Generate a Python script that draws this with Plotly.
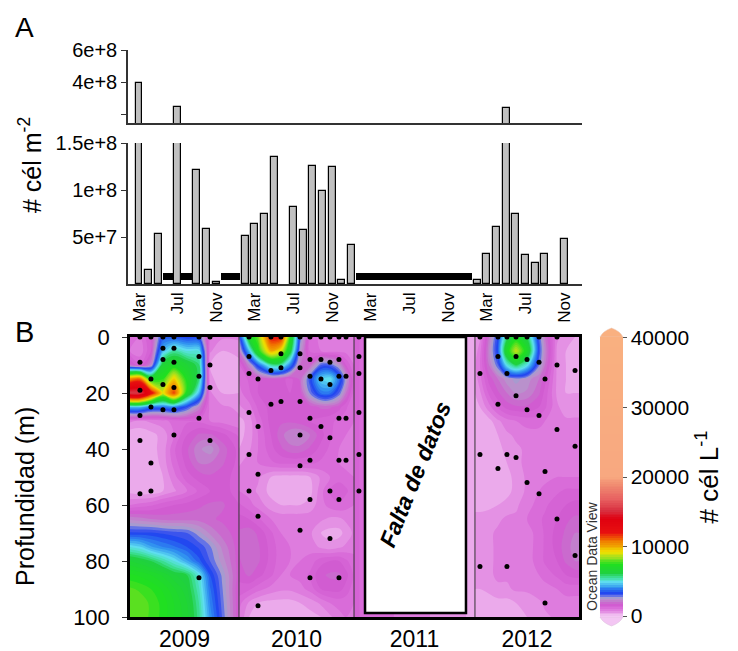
import plotly.graph_objects as go

# ---------------- Panel A data ----------------
bar_months = ["2009-03", "2009-04", "2009-05", "2009-07", "2009-09", "2009-10", "2009-11",
              "2010-02", "2010-03", "2010-04", "2010-05", "2010-07", "2010-08", "2010-09",
              "2010-10", "2010-11", "2010-12", "2011-01",
              "2012-02", "2012-03", "2012-04", "2012-05", "2012-06", "2012-07", "2012-08",
              "2012-09", "2012-11"]
cells_m2 = [3.95e8, 1.5e7, 5.35e7, 2.5e8, 1.215e8, 5.9e7, 2.0e6,
            5.1e7, 6.35e7, 7.5e7, 1.35e8, 8.2e7, 5.7e7, 1.26e8,
            9.85e7, 1.24e8, 4.5e6, 4.2e7,
            4.0e6, 3.2e7, 6.07e7, 2.4e8, 7.47e7, 3.1e7, 2.2e7,
            3.2e7, 4.75e7]
no_sample_months = ["2009-06", "2009-07", "2009-08", "2009-12", "2010-01",
                    "2011-02", "2011-03", "2011-04", "2011-05", "2011-06", "2011-07",
                    "2011-08", "2011-09", "2011-10", "2011-11", "2011-12", "2012-01"]
no_sample_base = 4.0e6
no_sample_height = 7.5e6
tick_months = ["2009-03", "2009-07", "2009-11", "2010-03", "2010-07", "2010-11",
               "2011-03", "2011-07", "2011-11", "2012-03", "2012-07", "2012-11"]
tick_labels = ["Mar", "Jul", "Nov", "Mar", "Jul", "Nov",
               "Mar", "Jul", "Nov", "Mar", "Jul", "Nov"]
upper_ticks = [2e8, 4e8, 6e8]
upper_ticktext = ["", "4e+8", "6e+8"]
lower_ticks = [5e7, 1e8, 1.5e8]
lower_ticktext = ["5e+7", "1e+8", "1.5e+8"]

# ---------------- Panel B data ----------------
depths = [0, 5, 10, 15, 20, 25, 30, 35, 40, 45, 50, 55, 60, 65, 70, 75, 80, 85, 90, 95, 100]
years = ["2009", "2010", "2011", "2012"]
year_edges = [1.07, 12.35, 24.26, 36.78, 47.55]
nodata_x = [25.40, 35.85]
nodata_depth = [0, 98.6]

cols_2009 = [1.07, 2.10, 3.24, 4.48, 5.62, 6.97, 8.21, 9.35, 10.59, 12.35]
z_2009 = [
    [1200, 1000, 1500, 3500, 3500, 3300, 3200, 1000, 800, 800],
    [1000, 800, 1500, 4500, 5500, 5000, 5000, 800, 500, 600],
    [1800, 1300, 2200, 6500, 7000, 6500, 5800, 500, 300, 400],
    [10500, 11000, 7000, 7500, 9500, 7200, 5800, 600, 300, 400],
    [15500, 15500, 12500, 9000, 11500, 7000, 4500, 800, 500, 500],
    [4500, 4500, 3800, 3800, 4000, 3200, 2200, 900, 800, 700],
    [800, 700, 800, 900, 1100, 1200, 1200, 1000, 900, 800],
    [300, 300, 400, 600, 1000, 1500, 1800, 1800, 1600, 1200],
    [300, 300, 400, 600, 1200, 1700, 2200, 2400, 1900, 1400],
    [300, 300, 300, 600, 1100, 1600, 2000, 2000, 1800, 1400],
    [300, 300, 300, 500, 900, 1400, 1600, 1700, 1600, 1400],
    [400, 300, 300, 500, 700, 1000, 1300, 1500, 1600, 1400],
    [1000, 1100, 1200, 1400, 1500, 1600, 1700, 1800, 1800, 1500],
    [2200, 2100, 2000, 1900, 1900, 1900, 1900, 1800, 1700, 1500],
    [3300, 3300, 3300, 3200, 3100, 3000, 2600, 2200, 1900, 1600],
    [5000, 4800, 4300, 4000, 3800, 3500, 3200, 2800, 2200, 1600],
    [6500, 6300, 6000, 5500, 5000, 4300, 3600, 3000, 2400, 1600],
    [7300, 7200, 7000, 6700, 6300, 6000, 5000, 3500, 2700, 1600],
    [7800, 7700, 7500, 7200, 6800, 6300, 5300, 3800, 2800, 1500],
    [8000, 7900, 7700, 7400, 7000, 6500, 5500, 4000, 2900, 1500],
    [8000, 7900, 7700, 7400, 7000, 6600, 5600, 4200, 3000, 1500],
]

cols_2010 = [12.35, 13.39, 14.32, 15.66, 16.70, 17.63, 18.67, 19.70, 20.84, 21.77, 22.70, 23.43, 24.26]
z_2010 = [
    [2800, 6800, 8000, 12000, 12000, 7500, 3000, 1200, 900, 800, 800, 800, 900],
    [2000, 4500, 7200, 10000, 9000, 6500, 2500, 1200, 1000, 900, 900, 900, 900],
    [1200, 2200, 3600, 5500, 5500, 4000, 2000, 1800, 3000, 3000, 2400, 1500, 1000],
    [1000, 1300, 1500, 1700, 1600, 1400, 1800, 3200, 4800, 5000, 3800, 2500, 1200],
    [900, 1200, 1500, 1700, 1600, 1500, 1600, 2800, 3800, 3800, 3000, 2000, 1100],
    [700, 900, 1300, 1600, 1700, 1600, 1500, 1600, 1800, 1800, 1600, 1300, 1000],
    [400, 600, 1100, 1600, 1700, 1700, 1600, 1500, 1400, 1300, 1200, 1100, 1000],
    [400, 600, 1000, 1500, 1900, 2200, 2300, 2000, 1600, 1300, 1100, 1000, 900],
    [500, 700, 1000, 1400, 1700, 1900, 1900, 1700, 1400, 1200, 1000, 900, 900],
    [700, 900, 1000, 1200, 1300, 1300, 1300, 1300, 1200, 1100, 1000, 900, 900],
    [900, 900, 800, 500, 400, 400, 400, 500, 800, 1000, 1100, 1100, 1000],
    [1000, 900, 700, 400, 300, 300, 300, 400, 900, 1300, 1500, 1300, 1100],
    [1300, 1100, 900, 600, 500, 500, 500, 600, 900, 1100, 1200, 1100, 1000],
    [1600, 1500, 1300, 1000, 900, 900, 900, 900, 800, 700, 700, 800, 900],
    [1800, 1900, 1700, 1300, 1000, 1000, 1000, 800, 500, 400, 400, 600, 800],
    [1800, 2000, 1800, 1400, 1100, 1000, 1000, 900, 700, 600, 700, 800, 900],
    [1700, 2000, 1800, 1400, 1100, 1000, 1000, 1100, 1400, 1500, 1500, 1300, 1100],
    [1600, 1800, 1600, 1300, 1000, 1000, 1100, 1300, 1700, 1800, 1800, 1600, 1200],
    [1400, 1300, 1100, 900, 800, 800, 900, 1100, 1500, 1600, 1600, 1400, 1100],
    [1100, 700, 500, 400, 400, 400, 500, 600, 800, 1000, 1100, 1100, 1000],
    [1000, 500, 300, 300, 300, 300, 300, 400, 500, 700, 900, 1000, 1000],
]

cols_2011 = [24.26, 25.40, 35.85, 36.78]
z_2011 = [[1300, 1200, 500, 500] for _d in depths]

cols_2012 = [36.78, 37.30, 38.23, 39.16, 40.09, 41.03, 42.17, 43.41, 44.03, 45.27, 46.20, 47.14, 47.55]
z_2012 = [
    [500, 700, 2000, 3300, 5800, 7000, 6000, 3000, 2000, 800, 600, 500, 500],
    [600, 900, 2200, 3500, 7000, 8800, 7000, 3200, 2200, 700, 500, 400, 400],
    [700, 1000, 2000, 3000, 5000, 6000, 5000, 2800, 2000, 700, 500, 400, 400],
    [600, 900, 1600, 2000, 2400, 2600, 2400, 2000, 1600, 700, 500, 400, 400],
    [500, 700, 1300, 1700, 2000, 2300, 2200, 1800, 1400, 700, 500, 500, 500],
    [400, 500, 900, 1300, 1600, 1700, 1700, 1500, 1300, 800, 600, 600, 600],
    [300, 300, 400, 700, 900, 1000, 1100, 1100, 1000, 900, 800, 800, 800],
    [300, 300, 300, 500, 700, 800, 900, 900, 900, 800, 800, 800, 800],
    [300, 300, 300, 400, 600, 700, 800, 800, 800, 800, 800, 800, 800],
    [300, 300, 300, 300, 500, 700, 800, 800, 800, 900, 900, 900, 900],
    [300, 300, 300, 300, 400, 600, 800, 900, 900, 1000, 1000, 1000, 1000],
    [300, 300, 300, 300, 400, 600, 800, 1000, 1100, 1200, 1300, 1300, 1300],
    [400, 400, 400, 500, 600, 700, 900, 1100, 1200, 1400, 1500, 1600, 1600],
    [600, 600, 700, 700, 800, 800, 1000, 1200, 1300, 1500, 1700, 1800, 1800],
    [700, 700, 700, 800, 800, 800, 900, 1100, 1300, 1600, 1800, 2000, 2000],
    [700, 700, 700, 800, 800, 800, 900, 1100, 1300, 1600, 1900, 2100, 2100],
    [700, 700, 700, 800, 800, 800, 900, 1100, 1300, 1500, 1800, 2000, 2000],
    [600, 700, 700, 800, 800, 800, 900, 1000, 1100, 1300, 1500, 1600, 1600],
    [500, 500, 600, 700, 700, 800, 800, 900, 900, 1000, 1100, 1100, 1100],
    [400, 300, 300, 400, 400, 500, 600, 700, 800, 800, 900, 900, 900],
    [400, 300, 300, 300, 300, 400, 500, 600, 700, 800, 800, 800, 800],
]

# sampling stations (month position, depths in m)
stations = [
    (2.10, [0, 9, 19, 28, 37, 56]), (3.24, [0, 15, 25, 45, 55]), (4.48, [0, 4, 8, 17, 26]),
    (5.62, [0, 4, 9, 18, 26, 35]), (8.21, [0, 7, 14, 29, 86]), (9.35, [0, 10, 18, 37]),
    (13.39, [0, 7, 13, 27, 42, 55]), (14.32, [15, 32, 49, 64, 96]), (15.66, [0, 12, 24]),
    (16.70, [0, 6, 11, 23]), (18.67, [0, 6, 11, 23, 35, 46, 69]),
    (19.70, [0, 8, 14, 29, 44, 58, 86]), (20.84, [0, 8, 15, 32]),
    (21.77, [0, 9, 17, 36, 55, 72]), (22.70, [0, 8, 14, 29, 44, 58, 86]),
    (23.43, [0, 14, 29, 44]), (24.77, [0, 7, 13, 27, 42, 55]),
    (37.30, [0, 13, 42, 82]), (39.16, [0, 7, 24, 47]), (40.09, [0, 13, 42, 82]),
    (41.03, [0, 7, 21, 43]), (42.17, [0, 8, 26, 52]), (43.41, [0, 9, 28, 56]),
    (44.03, [15, 48, 95]), (45.27, [0, 10, 33, 65]), (47.14, [12, 39, 78]),
]

cbar_ticks = [0, 10000, 20000, 30000, 40000]
cbar_ticktext = ["0", "10000", "20000", "30000", "40000"]
cs_values = [0, 350, 600, 900, 1300, 1800, 2300, 2700, 3000, 3400, 4200, 5000, 5600, 6200, 7500,
             8500, 9300, 10200, 11000, 12000, 14000, 15200, 16800, 18800, 20000, 40000]
cs_colors = ["#f3c6f3", "#efb8ef", "#e8a0e8", "#e082e0", "#d868d8", "#d05ad0", "#c084cc", "#b0a0cc",
             "#6070e8", "#2040f0", "#3090f0", "#60e0f0", "#40e0a0", "#20d040", "#20e020",
             "#a0e020", "#f0e000", "#f0a000", "#f07000", "#e81010", "#e00010", "#d83040",
             "#e86060", "#f08a70", "#f8a880", "#f9b080"]

# ---------------- helpers ----------------
W, H = 738, 651
FONT = "Liberation Sans, Arial, sans-serif"


def midx(s):
    y, m = s.split("-")
    return (int(y) - 2009) * 12 + int(m) - 1


def fx(px):
    return px / W


def fy(py):
    return 1 - py / H


bar_x = [midx(m) for m in bar_months]
gap_x = [midx(m) for m in no_sample_months]
tick_x = [midx(m) for m in tick_months]

fig = go.Figure()

# Panel A: no-sampling bars (lower) then counts in both sub panels
fig.add_trace(go.Bar(x=gap_x, y=[no_sample_height] * len(gap_x), base=no_sample_base,
                     width=1.0, marker=dict(color="black", line=dict(width=0)),
                     xaxis="x2", yaxis="y2", showlegend=False, hoverinfo="skip"))
for xa, ya in (("x", "y"), ("x2", "y2")):
    fig.add_trace(go.Bar(x=bar_x, y=cells_m2, width=0.72,
                         marker=dict(color="#c0c0c0", line=dict(color="black", width=1.2)),
                         xaxis=xa, yaxis=ya, showlegend=False))

# Panel B: contour per year
for cols, zz in ((cols_2009, z_2009), (cols_2010, z_2010), (cols_2011, z_2011), (cols_2012, z_2012)):
    fig.add_trace(go.Contour(
        x=cols, y=depths, z=zz, coloraxis="coloraxis", autocontour=False,
        contours=dict(start=0, end=40000, size=250, coloring="fill", showlines=False),
        line=dict(width=0, smoothing=1.0), xaxis="x3", yaxis="y3", hoverinfo="skip"))

sx, sy = [], []
for xm, ds in stations:
    for d in ds:
        sx.append(xm)
        sy.append(d)
fig.add_trace(go.Scatter(x=sx, y=sy, mode="markers", marker=dict(color="black", size=5),
                         xaxis="x3", yaxis="y3", showlegend=False, hoverinfo="skip"))

axis_line = dict(showline=True, linecolor="#333333", linewidth=1.5, showgrid=False,
                 zeroline=False, automargin=False)
top_dom = [fx(128), fx(582)]
top_rng = [0.86, 47.86]

# shapes: year separators, no-data box, colorbar end caps
shapes = []
for e in year_edges[1:-1]:
    shapes.append(dict(type="line", xref="x3", yref="y3", x0=e, x1=e, y0=0, y1=100,
                       line=dict(color="#333333", width=1), layer="above"))
shapes.append(dict(type="rect", xref="x3", yref="y3", x0=nodata_x[0], x1=nodata_x[1],
                   y0=nodata_depth[0], y1=nodata_depth[1], fillcolor="white",
                   line=dict(color="black", width=2.5), layer="above"))
cb_l, cb_r, cb_t, cb_b = 600, 623, 337, 617
cb_mid = (cb_l + cb_r) / 2
shapes.append(dict(type="path", xref="paper", yref="paper",
                   path=f"M {fx(cb_l)} {fy(cb_t)} Q {fx(cb_l + 3)} {fy(cb_t - 6)} {fx(cb_mid)} {fy(cb_t - 9)} "
                        f"Q {fx(cb_r - 3)} {fy(cb_t - 6)} {fx(cb_r)} {fy(cb_t)} Z",
                   fillcolor=cs_colors[-1], line=dict(color="#e8c8b8", width=0.5)))
shapes.append(dict(type="path", xref="paper", yref="paper",
                   path=f"M {fx(cb_l)} {fy(cb_b)} Q {fx(cb_l + 3)} {fy(cb_b + 6)} {fx(cb_mid)} {fy(cb_b + 9)} "
                        f"Q {fx(cb_r - 3)} {fy(cb_b + 6)} {fx(cb_r)} {fy(cb_b)} Z",
                   fillcolor=cs_colors[0], line=dict(color="#d8b8d8", width=0.5)))

year_mid = [(year_edges[i] + year_edges[i + 1]) / 2 for i in range(len(years))]


def ann(text, x, y, size, angle=0, color="black", xref="paper", yref="paper"):
    return dict(text=text, x=x, y=y, xref=xref, yref=yref, showarrow=False, textangle=angle,
                xanchor="center", yanchor="middle", font=dict(size=size, color=color, family=FONT))


annotations = [
    ann("A", fx(24), fy(28), 28),
    ann("B", fx(25), fy(332), 29),
    ann("# cél m<sup>-2</sup>", fx(30), fy(165), 25, -90),
    ann("Profundidad (m)", fx(25), fy(497), 25, -90),
    ann("<b><i>Falta de datos</i></b>", sum(nodata_x) / 2, 49, 23, -68, xref="x3", yref="y3"),
    ann("Ocean Data View", fx(592), fy(556), 14, -90, color="#333333"),
]

fig.update_layout(
    width=W, height=H, margin=dict(l=0, r=0, t=0, b=0, autoexpand=False),
    paper_bgcolor="white", plot_bgcolor="white", barmode="overlay", bargap=0,
    font=dict(family=FONT, color="black"),
    xaxis=dict(domain=top_dom, range=top_rng, anchor="y", showticklabels=False, ticks="", **axis_line),
    yaxis=dict(domain=[fy(123), fy(50)], range=[1.5e8, 6e8], tickvals=upper_ticks,
               ticktext=upper_ticktext, ticks="outside", ticklen=5, tickcolor="#333333",
               tickfont=dict(size=20), anchor="x", **axis_line),
    xaxis2=dict(domain=top_dom, range=top_rng, anchor="y2", tickvals=tick_x, ticktext=tick_labels,
                tickangle=-90, ticks="", tickfont=dict(size=17), **axis_line),
    yaxis2=dict(domain=[fy(284), fy(143)], range=[0, 1.5e8], tickvals=lower_ticks,
                ticktext=lower_ticktext, ticks="outside", ticklen=5, tickcolor="#333333",
                tickfont=dict(size=20), anchor="x2", **axis_line),
    xaxis3=dict(domain=[fx(130), fx(579)], range=[year_edges[0], year_edges[-1]], anchor="y3",
                tickvals=year_mid, ticktext=years, ticks="", tickfont=dict(size=23),
                showline=True, mirror=True, linecolor="black", linewidth=2.5,
                showgrid=False, zeroline=False, automargin=False),
    yaxis3=dict(domain=[fy(617), fy(337)], range=[100, 0], anchor="x3",
                tickvals=[0, 20, 40, 60, 80, 100], ticks="outside", ticklen=5, tickcolor="#333333",
                tickfont=dict(size=22), ticklabelstandoff=8,
                showline=True, mirror=True, linecolor="black", linewidth=2.5,
                showgrid=False, zeroline=False, automargin=False),
    coloraxis=dict(
        cmin=0, cmax=40000,
        colorscale=[[v / cs_values[-1], c] for v, c in zip(cs_values, cs_colors)],
        colorbar=dict(x=fx(cb_l), xanchor="left", y=fy((cb_t + cb_b) / 2), yanchor="middle",
                      len=(cb_b - cb_t) / H, lenmode="fraction", thickness=cb_r - cb_l,
                      thicknessmode="pixels", outlinewidth=0, xpad=0, ypad=0,
                      tickvals=cbar_ticks, ticktext=cbar_ticktext, ticks="outside", ticklen=4,
                      tickcolor="#555555", tickfont=dict(size=21, family=FONT),
                      title=dict(text="# cél L<sup>-1</sup>", side="right",
                                 font=dict(size=26, family=FONT))),
    ),
    shapes=shapes, annotations=annotations,
)

fig.write_html("out.html")
